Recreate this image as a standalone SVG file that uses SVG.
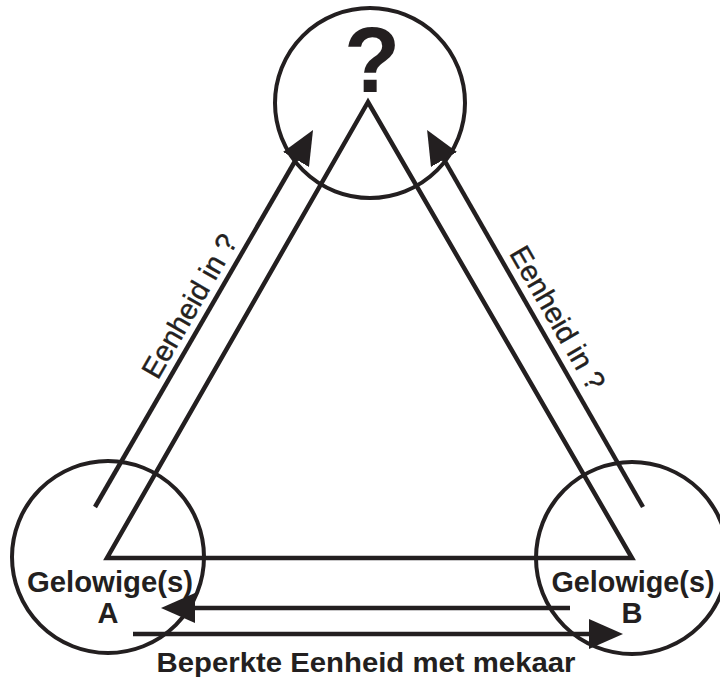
<svg xmlns="http://www.w3.org/2000/svg" width="720" height="677" viewBox="0 0 720 677">
<style>
.ln{fill:none;stroke:#231f20;stroke-width:4.5;stroke-linejoin:miter}
.ci{fill:none;stroke:#231f20;stroke-width:4}
.bt{font-family:"Liberation Sans",Arial,sans-serif;font-weight:bold;fill:#231f20;text-anchor:middle}
.rt{font-family:"Liberation Sans",Arial,sans-serif;fill:#231f20;text-anchor:middle;font-size:29px;stroke:#231f20;stroke-width:0.4}
</style>
<defs>
<marker id="ah" markerUnits="userSpaceOnUse" viewBox="0 0 34 30" refX="4" refY="15" markerWidth="34" markerHeight="30" orient="auto">
<path d="M0,0 L34,15 L0,30 Z" fill="#231f20"/>
</marker>
</defs>
<rect width="720" height="677" fill="#fff"/>
<g id="triangle">
<path class="ln" d="M368,102 L107,558 L632,558 Z"/>
</g>
<g id="node-top">
<circle class="ci" cx="370" cy="103" r="95"/>
<text class="bt" x="372" y="92" font-size="92">?</text>
</g>
<g id="node-a">
<circle class="ci" cx="108" cy="557" r="96"/>
<text class="bt" x="110" y="592" font-size="29" textLength="166" lengthAdjust="spacingAndGlyphs">Gelowige(s)</text>
<text class="bt" x="108" y="623" font-size="29">A</text>
</g>
<g id="node-b">
<circle class="ci" cx="632" cy="558" r="96"/>
<text class="bt" x="633" y="592" font-size="29" textLength="163" lengthAdjust="spacingAndGlyphs">Gelowige(s)</text>
<text class="bt" x="632" y="623" font-size="29">B</text>
</g>
<g id="connectors">
<line class="ln" x1="95" y1="507" x2="298" y2="156" marker-end="url(#ah)"/>
<line class="ln" x1="643" y1="507" x2="442" y2="156" marker-end="url(#ah)"/>
<line class="ln" x1="570" y1="608" x2="191" y2="608" marker-end="url(#ah)"/>
<line class="ln" x1="133" y1="634" x2="593" y2="634" marker-end="url(#ah)"/>
</g>
<g id="labels">
<text class="rt" transform="translate(198,311) rotate(-60)">Eenheid in ?</text>
<text class="rt" transform="translate(549,323) rotate(60)">Eenheid in ?</text>
<text class="bt" x="366" y="672" font-size="28" textLength="419" lengthAdjust="spacingAndGlyphs">Beperkte Eenheid met mekaar</text>
</g>
</svg>
